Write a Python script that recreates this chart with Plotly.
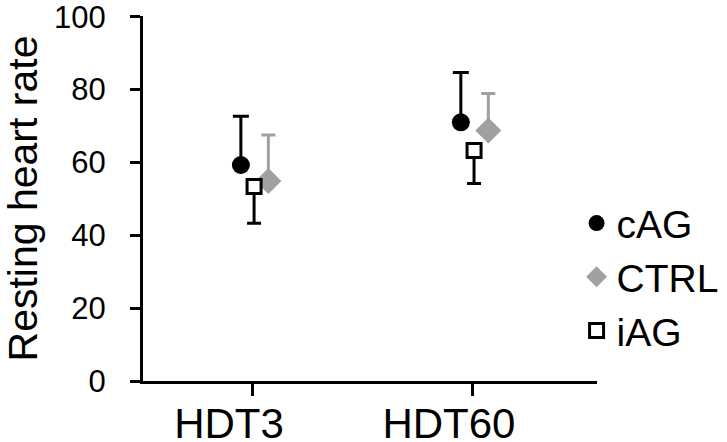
import plotly.graph_objects as go

# data
categories = ["HDT3", "HDT60"]
cag_mean = [59.3, 71.0]
cag_err_up = [13.4, 13.7]
ctrl_mean = [54.9, 68.8]
ctrl_err_up = [12.6, 10.1]
iag_mean = [53.4, 63.3]
iag_err_down = [10.1, 9.1]
y_ticks = [0, 20, 40, 60, 80, 100]

FONT = "Liberation Sans, Arial, sans-serif"
GRAY = "#a0a0a0"

xpos = list(range(1, len(categories) + 1))
# horizontal dodge of each group around the category tick
shift = {"cAG": -0.055, "CTRL": 0.07, "iAG": 0.005}

fig = go.Figure()
fig.add_trace(go.Scatter(
    x=[v + shift["cAG"] for v in xpos], y=cag_mean, mode="markers", name="cAG",
    marker=dict(symbol="circle", size=18, color="black"),
    error_y=dict(type="data", symmetric=False, array=cag_err_up,
                 arrayminus=[0] * len(cag_mean), color="black", thickness=3, width=8),
))
fig.add_trace(go.Scatter(
    x=[v + shift["CTRL"] for v in xpos], y=ctrl_mean, mode="markers", name="CTRL",
    marker=dict(symbol="diamond", size=20, color=GRAY),
    error_y=dict(type="data", symmetric=False, array=ctrl_err_up,
                 arrayminus=[0] * len(ctrl_mean), color=GRAY, thickness=3, width=7),
))
fig.add_trace(go.Scatter(
    x=[v + shift["iAG"] for v in xpos], y=iag_mean, mode="markers", name="iAG",
    marker=dict(symbol="square", size=14, color="white", line=dict(color="black", width=3)),
    error_y=dict(type="data", symmetric=False, array=[0] * len(iag_mean),
                 arrayminus=iag_err_down, color="black", thickness=3, width=7),
))

fig.update_layout(
    width=727, height=442,
    margin=dict(l=143, r=130, t=16, b=61, autoexpand=False),
    paper_bgcolor="white", plot_bgcolor="white",
    font=dict(family=FONT, color="black"),
    showlegend=True,
    legend=dict(x=0.955, y=0.52, xanchor="left", yanchor="top",
                font=dict(size=39, family=FONT), bgcolor="rgba(0,0,0,0)",
                tracegroupgap=0),
    xaxis=dict(
        range=[0.5, 2.564], tickvals=xpos, ticktext=categories, automargin=False,
        showline=True, linewidth=3, linecolor="black", showgrid=False, zeroline=False,
        ticks="outside", ticklen=12, tickwidth=3, tickcolor="black",
        tickfont=dict(size=42, family=FONT), ticklabelshift=-24, ticklabelstandoff=-8,
        ticklabeloverflow="allow",
    ),
    yaxis=dict(
        range=[0, 100.2], tickvals=y_ticks, automargin=False,
        showline=True, linewidth=3, linecolor="black", showgrid=False, zeroline=False,
        ticks="outside", ticklen=10, tickwidth=3, tickcolor="black",
        tickfont=dict(size=31, family=FONT), ticklabelstandoff=18,
        ticklabeloverflow="allow",
        title=dict(text="Resting heart rate", font=dict(size=41, family=FONT), standoff=26),
    ),
)

# drop the page's default body margin so the figure sits at the window corner
fig.write_html("out.html", config={"displayModeBar": False},
               post_script="document.body.style.margin = '0';")
